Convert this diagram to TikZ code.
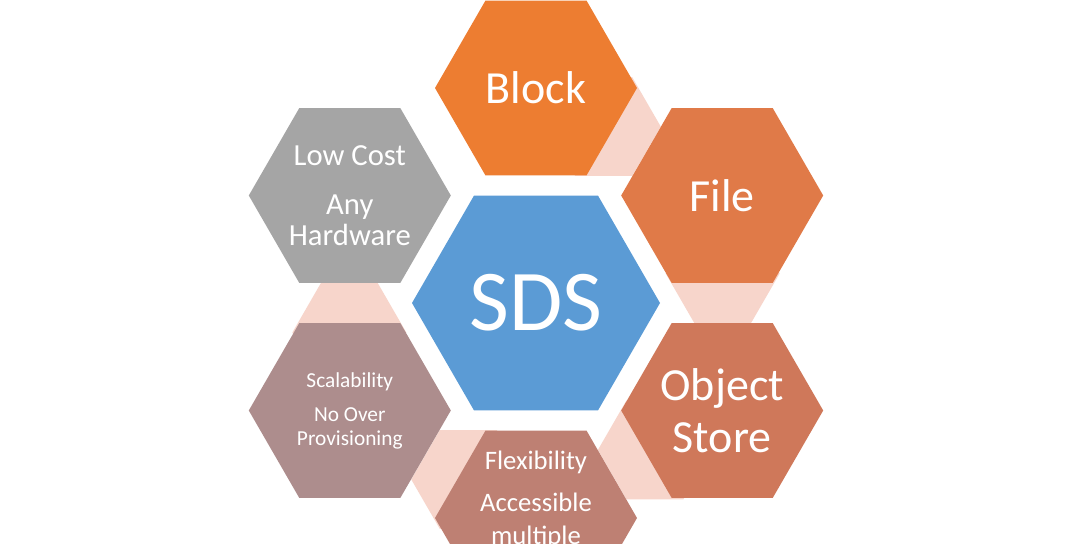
\documentclass[tikz,border=0pt]{standalone}
\usepackage{fontspec}
\setmainfont{Carlito}
\usepackage{tikz}
\usetikzlibrary{shapes.geometric,positioning}
\definecolor{hex0}{RGB}{91,155,213}
\definecolor{hex1}{RGB}{237,125,49}
\definecolor{hex2}{RGB}{224,122,72}
\definecolor{hex3}{RGB}{207,120,90}
\definecolor{hex4}{RGB}{190,128,115}
\definecolor{hex5}{RGB}{173,141,141}
\definecolor{hex6}{RGB}{165,165,165}
\definecolor{hexlink}{RGB}{247,213,203}
\tikzset{hexa/.style={regular polygon,regular polygon sides=6,inner sep=0pt,outer sep=0pt,text=white,align=center,minimum size=151.5pt}}

\begin{document}
\begin{tikzpicture}[x=75pt,y=75pt]
		\useasboundingbox (-5.36,-2.40) rectangle (5.44,3.03);
		\clip (-5.36,-2.40) rectangle (5.44,3.03);
		\fill[white] (-5.36,-2.40) rectangle (5.44,3.03);
		\foreach \a [count=\i] in {69,9,-51,-111,-171}
			\node[hexa,fill=hexlink,minimum size=85.5pt] (link\i) at (\a:1.89) {};
		\node[hexa,fill=hex0,minimum size=186pt,font=\fontsize{65}{78}\selectfont] (sds) at (0,0) {SDS};
		\node[hexa,fill=hex1,font=\fontsize{34.5}{39}\selectfont] (block) at (90:2.15) {Block};
		\node[hexa,fill=hex2,font=\fontsize{34.5}{39}\selectfont] (file) at (30:2.15) {File};
		\node[hexa,fill=hex3,font=\fontsize{34.5}{39}\selectfont] (object) at (-30:2.15) {Object\\Store};
		\node[hexa,fill=hex4] (flex) at (-90:2.15) {};
		\node[hexa,fill=hex5,font=\fontsize{16}{18}\selectfont] (scal) at (-150:2.15) {Scalability\\[7.5pt]No Over\\Provisioning};
		\node[hexa,fill=hex6,font=\fontsize{23}{23.25}\selectfont] (lowcost) at (150:2.15) {Low Cost\\[13.5pt]Any\\Hardware};
		\node[text=white,align=center,inner sep=0pt,anchor=north,font=\fontsize{20}{24.75}\selectfont] (flextext) at ([yshift=-15.4pt]flex.north) {Flexibility\\[6.75pt]Accessible\\multiple};
\end{tikzpicture}
\end{document}
